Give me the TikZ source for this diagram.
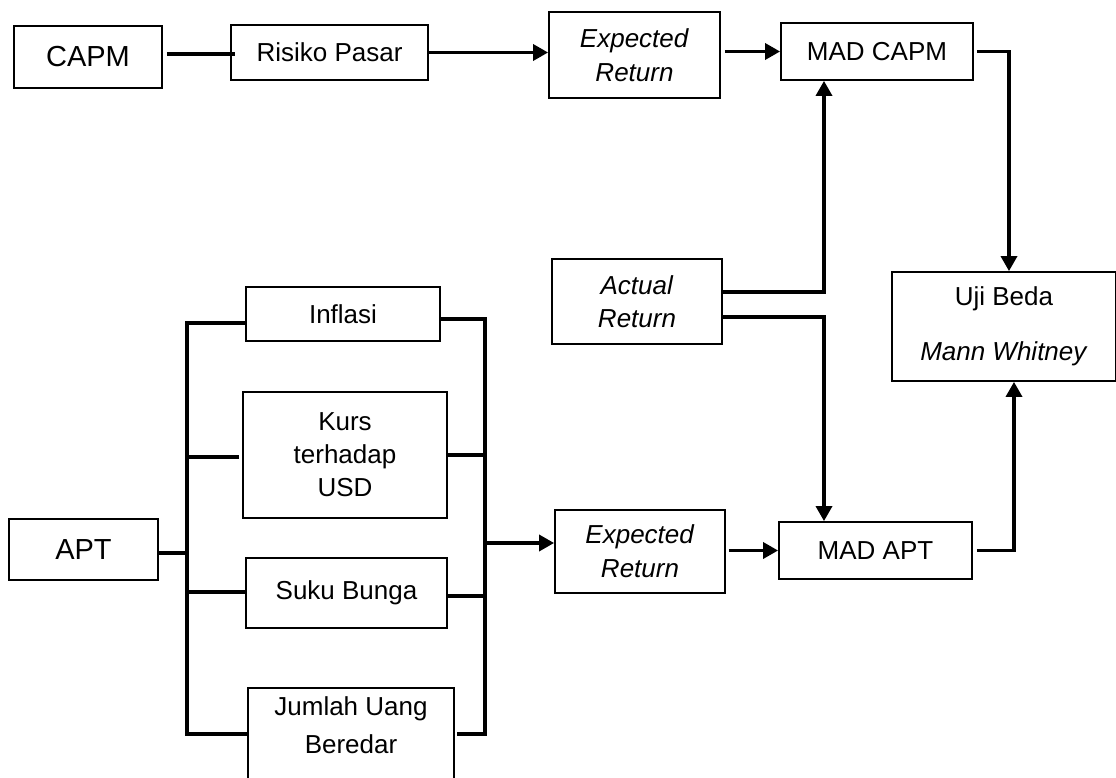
\documentclass[tikz,border=0pt]{standalone}
\usepackage{fontspec}
\setmainfont{Liberation Sans}
\usetikzlibrary{arrows.meta}

\begin{document}
\begin{tikzpicture}[x=1pt,y=-1pt,
        kotak/.style={draw, line width=1.8pt, inner sep=0pt, align=center,
            font=\fontsize{26}{36}\selectfont},
        teks/.style={inner sep=0pt, align=center, font=\fontsize{26}{36}\selectfont},
        besar/.style={font=\fontsize{29}{36}\selectfont},
        garis/.style={line width=3.4pt},
        panah/.style={garis, -{Triangle[length=15pt,width=16pt]}}]
        \useasboundingbox (0,0) rectangle (1116,778);

        \node[kotak, besar, minimum width=148pt, minimum height=62pt] (capm) at (88,57) {CAPM};
        \node[kotak, minimum width=197pt, minimum height=55pt] (risiko) at (329.5,52.5) {Risiko Pasar};
        \node[kotak, minimum width=171pt, minimum height=86pt] (er1) at (634.5,55) {\textit{Expected}\\[-2pt]\textit{Return}};
        \node[kotak, minimum width=192pt, minimum height=57pt] (madcapm) at (877,51.5) {MAD CAPM};

        \node[kotak, minimum width=170pt, minimum height=85pt] (actual) at (637,301.5) {\textit{Actual}\\[-3pt]\textit{Return}};
        \node[kotak, minimum width=224pt, minimum height=109pt] (uji) at (1004,326.5) {Uji Beda\\[19pt]\textit{Mann Whitney}};

        \node[kotak, besar, minimum width=149pt, minimum height=61pt] (apt) at (83.5,549.5) {APT};
        \node[kotak, minimum width=194pt, minimum height=54pt] (inflasi) at (343,314) {Inflasi};
        \node[kotak, minimum width=204pt, minimum height=126pt] (kurs) at (345,455) {Kurs\\[-3pt]terhadap\\[-3pt]USD};
        \node[kotak, minimum width=201pt, minimum height=70pt] (suku) at (346.5,593) {Suku Bunga};
        \node[kotak, minimum width=206pt, minimum height=120pt, anchor=north] (jumlah) at (351,687) {};
        \node[teks] (jumlahteks) at (351,725) {Jumlah Uang\\[2pt]Beredar};
        \node[kotak, minimum width=170pt, minimum height=83pt] (er2) at (640,551.5) {\textit{Expected}\\[-2pt]\textit{Return}};
        \node[kotak, minimum width=193pt, minimum height=57pt] (madapt) at (875.5,550.5) {MAD APT};

        \coordinate (bl) at (187,0);
        \coordinate (br) at (485,0);
        \coordinate (ka) at (824,0);

        % jalur CAPM
        \draw[garis] ([xshift=4pt,yshift=3pt]capm.east) -- ([xshift=5pt,yshift=3pt]capm.east -| risiko.west);
        \draw[panah] (risiko.east) -- (risiko.east -| er1.west);
        \draw[panah] ([xshift=4pt]er1.east |- madcapm.west) -- (madcapm.west);
        \draw[panah] ([xshift=3pt]madcapm.east) -| ([xshift=5pt]uji.north);

        % actual return
        \draw[panah] ([yshift=9.5pt]actual.east) -| (madcapm.south -| ka);
        \draw[panah] ([yshift=-15.5pt]actual.east) -| (madapt.north -| ka);

        % jalur APT
        \draw[garis] ([yshift=-9pt]inflasi.west) -| ([yshift=14pt]jumlah.west -| bl) -- ([xshift=2pt,yshift=14pt]jumlah.west);
        \draw[garis] ([yshift=-5pt]inflasi.east) -| ([yshift=14pt]jumlah.east -| br) -- ([xshift=2pt,yshift=14pt]jumlah.east);
        \draw[garis] ([yshift=-3.5pt]apt.east) -- ([yshift=-3.5pt]apt.east -| bl);
        \draw[garis] ([xshift=-3pt,yshift=-2pt]kurs.west) -- ([yshift=-2pt]kurs.west -| bl);
        \draw[garis] (kurs.east) -- (kurs.east -| br);
        \draw[garis] ([yshift=1pt]suku.west) -- ([yshift=1pt]suku.west -| bl);
        \draw[garis] ([yshift=-3pt]suku.east) -- ([yshift=-3pt]suku.east -| br);
        \draw[panah] ([yshift=8.5pt]er2.west -| br) -- ([yshift=8.5pt]er2.west);
        \draw[panah] ([xshift=3pt]er2.east |- madapt.west) -- (madapt.west);
        \draw[panah] ([xshift=4pt]madapt.east) -| ([xshift=10pt]uji.south);
\end{tikzpicture}
\end{document}
